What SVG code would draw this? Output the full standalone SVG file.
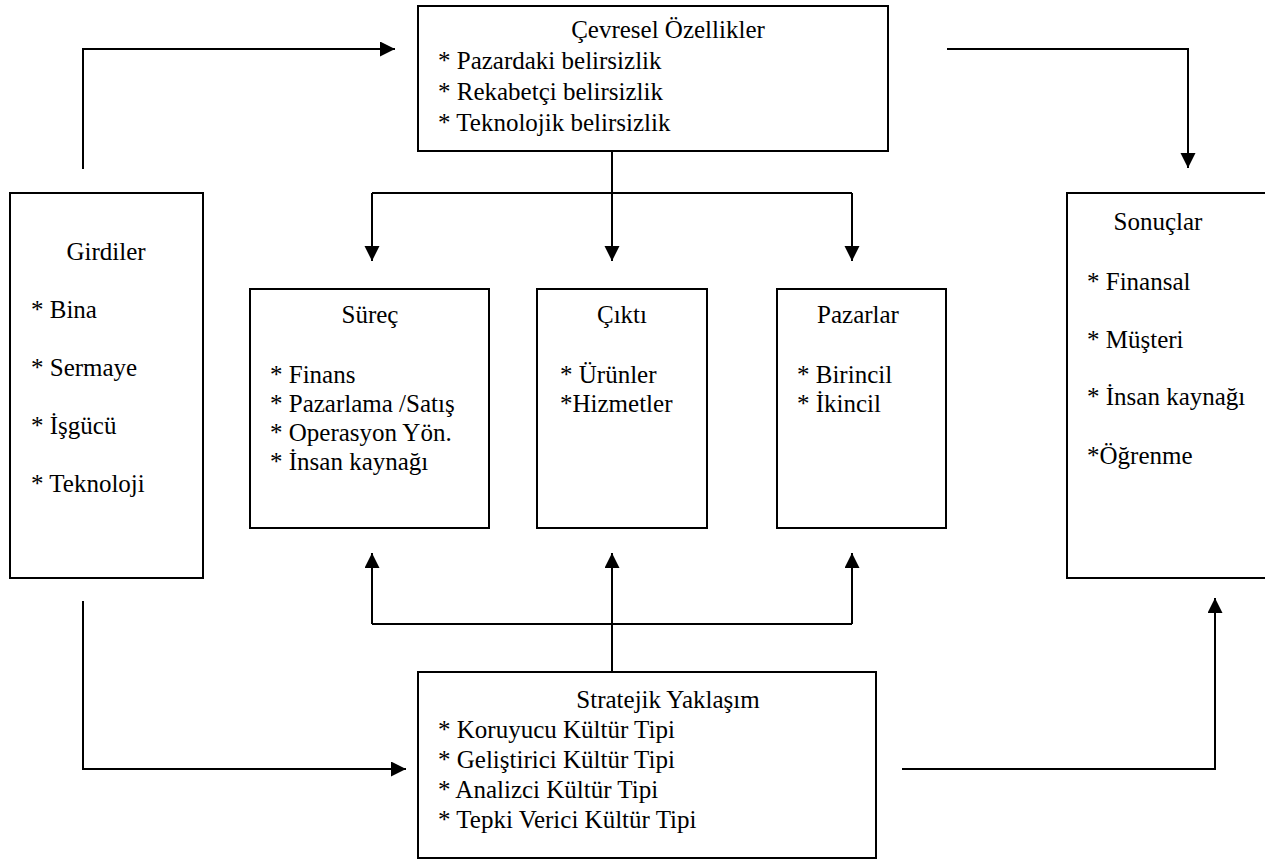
<svg xmlns="http://www.w3.org/2000/svg" width="1265" height="866" viewBox="0 0 1265 866">
<defs>
<marker id="ah" markerUnits="userSpaceOnUse" markerWidth="16" markerHeight="16" refX="15" refY="7.5" orient="auto">
<path d="M0,0 L15,7.5 L0,15 z" fill="#000"/>
</marker>
<style>
.box{fill:#fff;stroke:#000;stroke-width:2}
.t{font-family:"Liberation Serif",serif;font-size:25px;fill:#000}
.c{text-anchor:middle}
.ln{fill:none;stroke:#000;stroke-width:2}
.ar{fill:none;stroke:#000;stroke-width:2;marker-end:url(#ah)}
</style>
</defs>
<rect width="1265" height="866" fill="#fff"/>
<g id="connectors">
<path class="ar" d="M83,169 V49 H395"/>
<path class="ar" d="M947,49 H1188 V168"/>
<path class="ln" d="M612,151 V193 M372,193 H852"/>
<path class="ar" d="M372,193 V261"/>
<path class="ar" d="M612,193 V261"/>
<path class="ar" d="M852,193 V261"/>
<path class="ln" d="M612,672 V624 M372,624 H852"/>
<path class="ar" d="M372,624 V553"/>
<path class="ar" d="M612,624 V553"/>
<path class="ar" d="M852,624 V553"/>
<path class="ar" d="M83,601 V769 H406"/>
<path class="ar" d="M902,769 H1215 V598"/>
</g>
<g id="cevresel">
<rect class="box" x="418" y="6" width="470" height="145"/>
<text class="t c" x="668" y="38" font-family="Liberation Serif">Çevresel Özellikler</text>
<text class="t" x="438" y="69" font-family="Liberation Serif">* Pazardaki belirsizlik</text>
<text class="t" x="438" y="100" font-family="Liberation Serif">* Rekabetçi belirsizlik</text>
<text class="t" x="438" y="131" font-family="Liberation Serif">* Teknolojik belirsizlik</text>
</g>
<g id="girdiler">
<rect class="box" x="10" y="193" width="193" height="385"/>
<text class="t c" x="106" y="260" font-family="Liberation Serif">Girdiler</text>
<text class="t" x="31" y="318" font-family="Liberation Serif">* Bina</text>
<text class="t" x="31" y="376" font-family="Liberation Serif">* Sermaye</text>
<text class="t" x="31" y="434" font-family="Liberation Serif">* İşgücü</text>
<text class="t" x="31" y="492" font-family="Liberation Serif">* Teknoloji</text>
</g>
<g id="surec">
<rect class="box" x="250" y="289" width="239" height="239"/>
<text class="t c" x="370" y="323" font-family="Liberation Serif">Süreç</text>
<text class="t" x="270" y="383" font-family="Liberation Serif">* Finans</text>
<text class="t" x="270" y="412" font-family="Liberation Serif">* Pazarlama /Satış</text>
<text class="t" x="270" y="441" font-family="Liberation Serif">* Operasyon Yön.</text>
<text class="t" x="270" y="470" font-family="Liberation Serif">* İnsan kaynağı</text>
</g>
<g id="cikti">
<rect class="box" x="537" y="289" width="170" height="239"/>
<text class="t c" x="622" y="323" font-family="Liberation Serif">Çıktı</text>
<text class="t" x="560" y="383" font-family="Liberation Serif">* Ürünler</text>
<text class="t" x="560" y="412" font-family="Liberation Serif">*Hizmetler</text>
</g>
<g id="pazarlar">
<rect class="box" x="777" y="289" width="169" height="239"/>
<text class="t c" x="858" y="323" font-family="Liberation Serif">Pazarlar</text>
<text class="t" x="797" y="383" font-family="Liberation Serif">* Birincil</text>
<text class="t" x="797" y="412" font-family="Liberation Serif">* İkincil</text>
</g>
<g id="sonuclar">
<rect class="box" x="1067" y="193" width="210" height="385"/>
<text class="t c" x="1158" y="230" font-family="Liberation Serif">Sonuçlar</text>
<text class="t" x="1087" y="290" font-family="Liberation Serif">* Finansal</text>
<text class="t" x="1087" y="348" font-family="Liberation Serif">* Müşteri</text>
<text class="t" x="1087" y="405" font-family="Liberation Serif">* İnsan kaynağı</text>
<text class="t" x="1087" y="464" font-family="Liberation Serif">*Öğrenme</text>
</g>
<g id="stratejik">
<rect class="box" x="418" y="672" width="458" height="186"/>
<text class="t c" x="668" y="708" font-family="Liberation Serif">Stratejik Yaklaşım</text>
<text class="t" x="438" y="738" font-family="Liberation Serif">* Koruyucu Kültür Tipi</text>
<text class="t" x="438" y="768" font-family="Liberation Serif">* Geliştirici Kültür Tipi</text>
<text class="t" x="438" y="798" font-family="Liberation Serif">* Analizci Kültür Tipi</text>
<text class="t" x="438" y="828" font-family="Liberation Serif">* Tepki Verici Kültür Tipi</text>
</g>
</svg>
